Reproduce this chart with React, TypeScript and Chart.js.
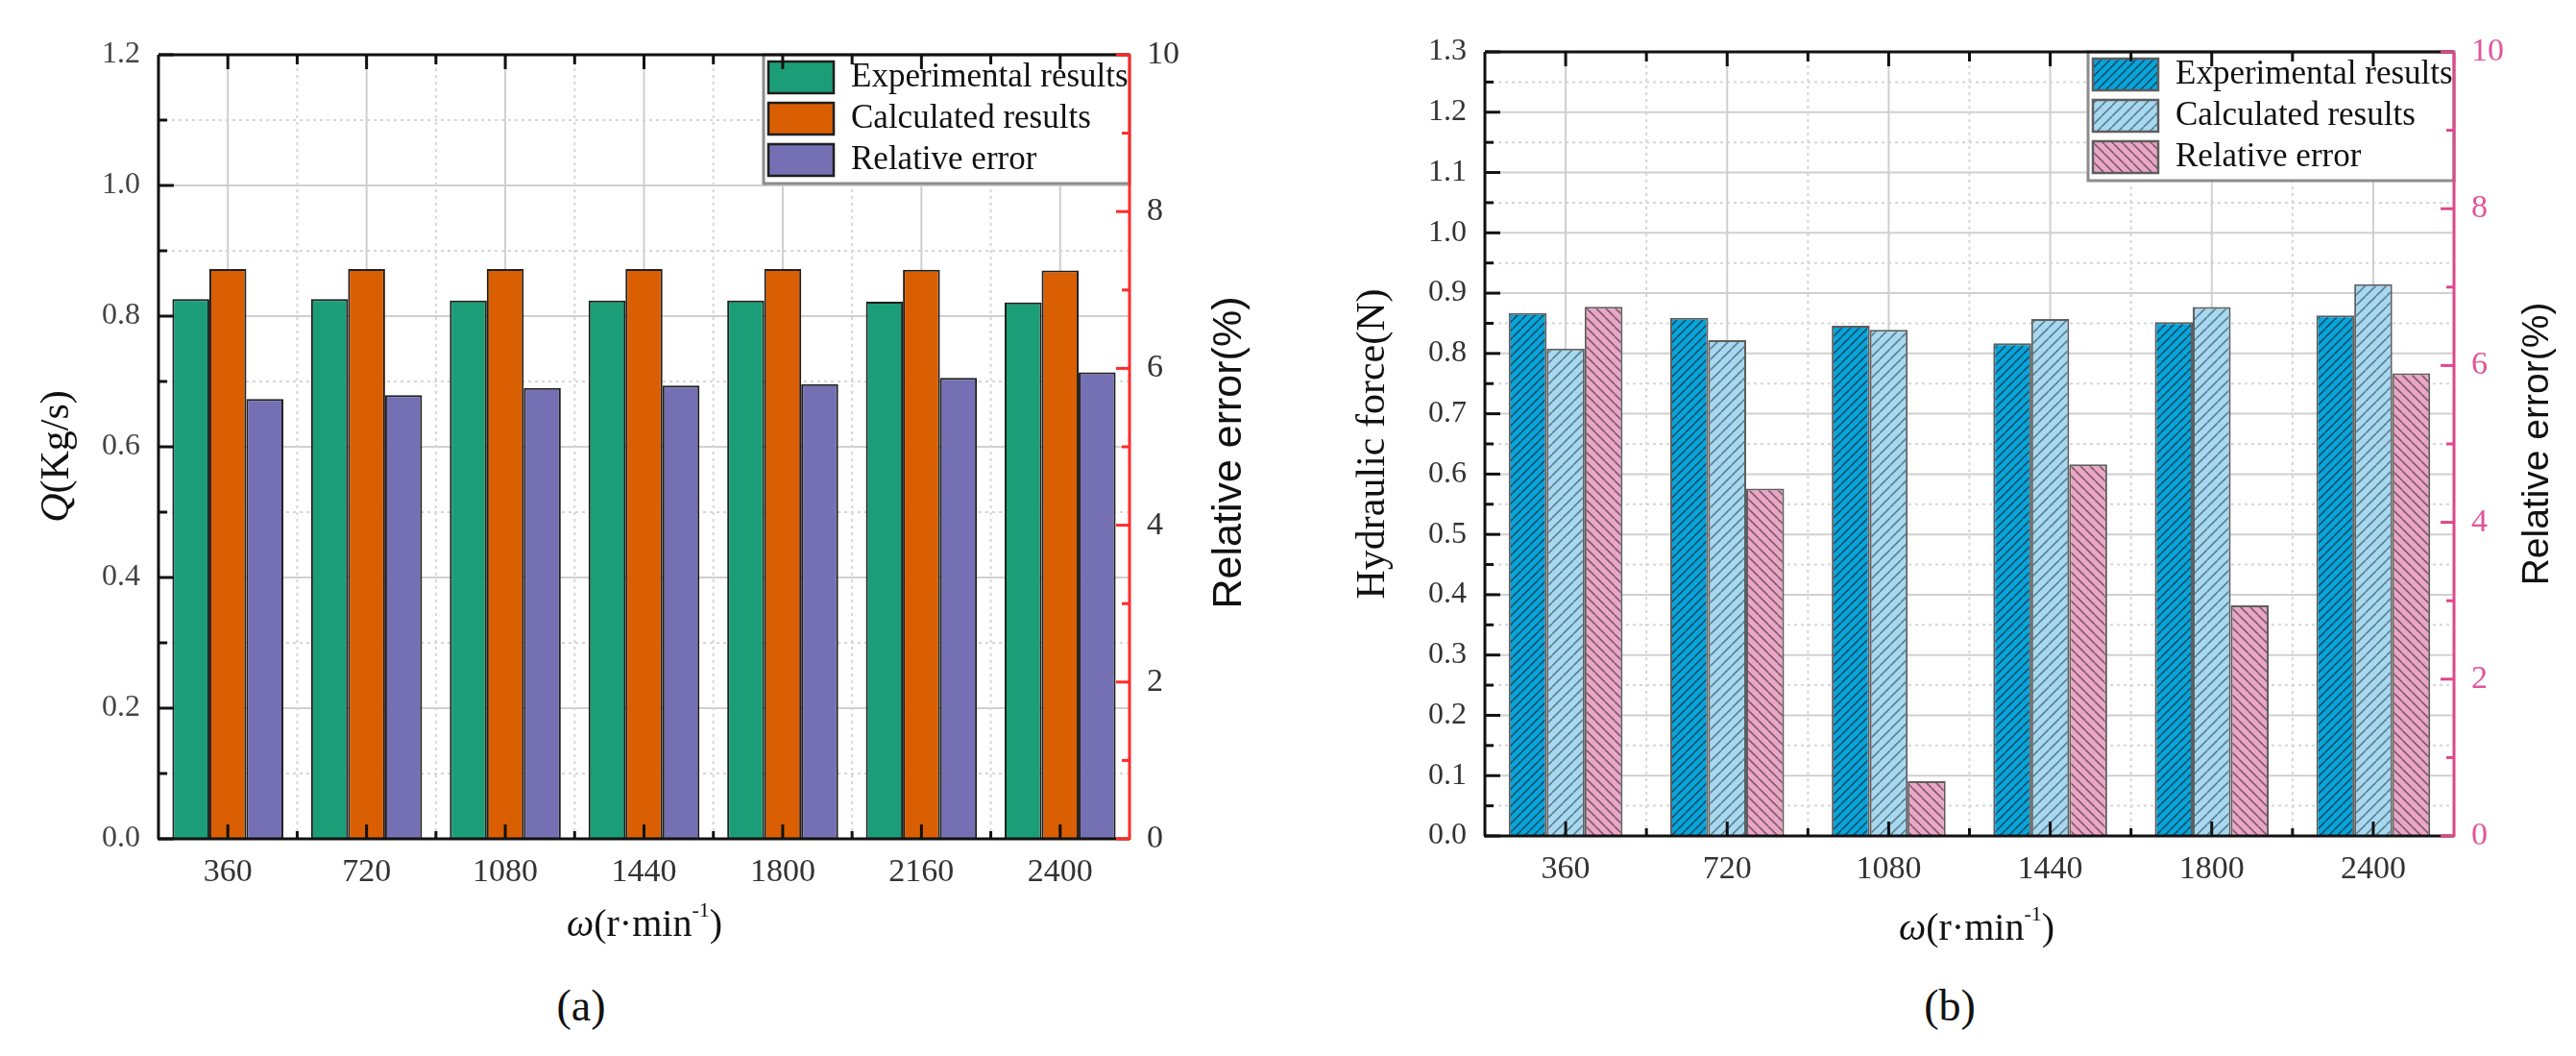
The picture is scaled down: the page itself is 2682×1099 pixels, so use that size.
import React, { useEffect, useRef } from "react";
import { Chart, registerables } from "chart.js";

Chart.register(...registerables);

// ---------------- data ----------------
const SERIES_LABELS = ["Experimental results", "Calculated results", "Relative error"];

const CATEGORIES_A = ["360", "720", "1080", "1440", "1800", "2160", "2400"];
const EXPERIMENTAL_A = [0.826, 0.826, 0.824, 0.824, 0.824, 0.822, 0.821];
const CALCULATED_A = [0.872, 0.872, 0.872, 0.872, 0.872, 0.871, 0.870];
const RELATIVE_ERROR_A = [5.61, 5.66, 5.75, 5.78, 5.80, 5.88, 5.95];

const CATEGORIES_B = ["360", "720", "1080", "1440", "1800", "2400"];
const EXPERIMENTAL_B = [0.867, 0.859, 0.846, 0.817, 0.852, 0.863];
const CALCULATED_B = [0.808, 0.822, 0.839, 0.857, 0.877, 0.915];
const RELATIVE_ERROR_B = [6.75, 4.43, 0.70, 4.74, 2.94, 5.90];

// ---------------- styling helpers ----------------
const SERIF = '"Liberation Serif", "Times New Roman", serif';
const SANS = '"Liberation Sans", Arial, sans-serif';

type Part = { text: string; font: string; dy?: number };

function drawParts(
  ctx: CanvasRenderingContext2D,
  parts: Part[],
  cx: number,
  cy: number,
  vertical: boolean,
  color: string
) {
  ctx.save();
  ctx.translate(cx, cy);
  if (vertical) ctx.rotate(-Math.PI / 2);
  const widths = parts.map((p) => {
    ctx.font = p.font;
    return ctx.measureText(p.text).width;
  });
  const total = widths.reduce((a, b) => a + b, 0);
  let x = -total / 2;
  ctx.textBaseline = "middle";
  ctx.textAlign = "left";
  ctx.fillStyle = color;
  parts.forEach((p, i) => {
    ctx.font = p.font;
    ctx.fillText(p.text, x, p.dy || 0);
    x += widths[i];
  });
  ctx.restore();
}

function makeHatch(bg: string, line: string, s: number, forward: boolean, lw: number): any {
  const c = document.createElement("canvas");
  c.width = s;
  c.height = s;
  const g = c.getContext("2d");
  if (!g) return bg;
  g.fillStyle = bg;
  g.fillRect(0, 0, s, s);
  g.strokeStyle = line;
  g.lineWidth = lw;
  g.beginPath();
  for (const x0 of [-s, 0, s]) {
    if (forward) {
      g.moveTo(x0, s);
      g.lineTo(x0 + s, 0);
    } else {
      g.moveTo(x0, 0);
      g.lineTo(x0 + s, s);
    }
  }
  g.stroke();
  const pat = g.createPattern(c, "repeat");
  return pat || bg;
}

type SeriesSpec = { label: string; data: number[]; bg: any; axis: "y" | "y1" };

type PanelCfg = {
  left: number;
  w: number;
  h: number;
  area: { left: number; right: number; top: number; bottom: number };
  categories: string[];
  series: SeriesSpec[];
  barBorder: string;
  catPct: number;
  yMax: number;
  yStep: number;
  yLabelEvery: number;
  y1Max: number;
  y1Step: number;
  rightColor: string;
  rightTickColor: string;
  yTickColor: string;
  leftTitle: { parts: Part[]; x: number; y: number };
  rightTitle: { parts: Part[]; x: number; y: number };
  xTitle: { parts: Part[]; x: number; y: number };
};

function decorPlugin(cfg: PanelCfg) {
  return {
    id: "decor",
    beforeDatasetsDraw(chart: any) {
      const { ctx, chartArea: a } = chart;
      const xs = chart.scales.x;
      const ys = chart.scales.y;
      ctx.save();
      ctx.lineWidth = 2;
      // horizontal grid
      ys.ticks.forEach((t: any, i: number) => {
        const py = ys.getPixelForValue(t.value);
        if (py <= a.top + 2 || py >= a.bottom - 2) return;
        const major = i % cfg.yLabelEvery === 0;
        ctx.beginPath();
        ctx.setLineDash(major ? [] : [3, 4]);
        ctx.strokeStyle = major ? "#d0d0d0" : "#d6d6d6";
        ctx.moveTo(a.left, py);
        ctx.lineTo(a.right, py);
        ctx.stroke();
      });
      // vertical grid
      const n = cfg.categories.length;
      for (let i = 0; i < n; i++) {
        const px = xs.getPixelForValue(i);
        ctx.beginPath();
        ctx.setLineDash([]);
        ctx.strokeStyle = "#cfcfcf";
        ctx.moveTo(px, a.top);
        ctx.lineTo(px, a.bottom);
        ctx.stroke();
        if (i < n - 1) {
          const bx = (px + xs.getPixelForValue(i + 1)) / 2;
          ctx.beginPath();
          ctx.setLineDash([3, 4]);
          ctx.strokeStyle = "#d6d6d6";
          ctx.moveTo(bx, a.top);
          ctx.lineTo(bx, a.bottom);
          ctx.stroke();
        }
      }
      ctx.restore();
    },
    afterDatasetsDraw(chart: any) {
      const { ctx, chartArea: a } = chart;
      const xs = chart.scales.x;
      const ys = chart.scales.y;
      const y1 = chart.scales.y1;
      ctx.save();
      ctx.setLineDash([]);

      // legend
      const lw = 381;
      const lh = 134;
      const lx = a.right - lw;
      const ly = a.top;
      ctx.fillStyle = "#ffffff";
      ctx.fillRect(lx, ly, lw, lh);
      ctx.strokeStyle = "#8c8c8c";
      ctx.lineWidth = 3;
      ctx.strokeRect(lx, ly, lw, lh);
      chart.data.datasets.forEach((ds: any, k: number) => {
        const sy = ly + 7 + k * 43;
        ctx.fillStyle = ds.backgroundColor;
        ctx.fillRect(lx + 5, sy, 68, 33);
        ctx.strokeStyle = cfg.barBorder;
        ctx.lineWidth = 2.5;
        ctx.strokeRect(lx + 5, sy, 68, 33);
        ctx.fillStyle = "#111";
        ctx.font = `35px ${SERIF}`;
        ctx.textBaseline = "middle";
        ctx.textAlign = "left";
        ctx.fillText(ds.label, lx + 91, sy + 17);
      });

      // frame
      ctx.lineWidth = 3;
      ctx.strokeStyle = "#111";
      ctx.beginPath();
      ctx.moveTo(a.left, a.top);
      ctx.lineTo(a.right, a.top);
      ctx.moveTo(a.left, a.top);
      ctx.lineTo(a.left, a.bottom);
      ctx.moveTo(a.left - 1, a.bottom);
      ctx.lineTo(a.right, a.bottom);
      ctx.stroke();
      ctx.strokeStyle = cfg.rightColor;
      ctx.beginPath();
      ctx.moveTo(a.right, a.top);
      ctx.lineTo(a.right, a.bottom + 1);
      ctx.stroke();

      // left ticks (inward)
      ctx.lineWidth = 3;
      ctx.strokeStyle = "#111";
      ys.ticks.forEach((t: any, i: number) => {
        const py = ys.getPixelForValue(t.value);
        const len = i % cfg.yLabelEvery === 0 ? 16 : 9;
        ctx.beginPath();
        ctx.moveTo(a.left, py);
        ctx.lineTo(a.left + len, py);
        ctx.stroke();
      });
      // right ticks (inward)
      ctx.strokeStyle = cfg.rightColor;
      y1.ticks.forEach((t: any, i: number) => {
        const py = y1.getPixelForValue(t.value);
        const len = i % 2 === 0 ? 14 : 8;
        ctx.beginPath();
        ctx.moveTo(a.right, py);
        ctx.lineTo(a.right - len, py);
        ctx.stroke();
      });
      // top & bottom ticks
      ctx.strokeStyle = "#111";
      const n = cfg.categories.length;
      for (let i = 0; i < n; i++) {
        const px = xs.getPixelForValue(i);
        ctx.beginPath();
        ctx.moveTo(px, a.top);
        ctx.lineTo(px, a.top + 15);
        ctx.moveTo(px, a.bottom);
        ctx.lineTo(px, a.bottom - 15);
        ctx.stroke();
        if (i < n - 1) {
          const bx = (px + xs.getPixelForValue(i + 1)) / 2;
          ctx.beginPath();
          ctx.moveTo(bx, a.top);
          ctx.lineTo(bx, a.top + 10);
          ctx.moveTo(bx, a.bottom);
          ctx.lineTo(bx, a.bottom - 8);
          ctx.stroke();
        }
      }

      // titles
      drawParts(ctx, cfg.leftTitle.parts, cfg.leftTitle.x, cfg.leftTitle.y, true, "#111");
      drawParts(ctx, cfg.rightTitle.parts, cfg.rightTitle.x, cfg.rightTitle.y, true, "#111");
      drawParts(ctx, cfg.xTitle.parts, cfg.xTitle.x, cfg.xTitle.y, false, "#111");
      ctx.restore();
    },
  };
}

function buildConfig(cfg: PanelCfg): any {
  const leftW = cfg.area.left;
  const rightW = cfg.w - cfg.area.right;
  const bottomH = cfg.h - cfg.area.bottom;
  return {
    type: "bar",
    data: {
      labels: cfg.categories,
      datasets: cfg.series.map((s) => ({
        label: s.label,
        data: s.data,
        backgroundColor: s.bg,
        borderColor: cfg.barBorder,
        borderWidth: 2,
        yAxisID: s.axis,
        categoryPercentage: cfg.catPct,
        barPercentage: 1,
      })),
    },
    options: {
      animation: false,
      responsive: false,
      devicePixelRatio: 1,
      layout: { padding: { top: cfg.area.top, left: 0, right: 0, bottom: 0 } },
      plugins: { legend: { display: false }, tooltip: { enabled: false } },
      scales: {
        x: {
          type: "category",
          offset: true,
          grid: { display: false, drawTicks: false },
          border: { display: false },
          ticks: {
            autoSkip: false,
            maxRotation: 0,
            padding: 15,
            color: "#333",
            font: { family: SERIF, size: 34 },
          },
          afterFit: (s: any) => {
            s.height = bottomH;
          },
        },
        y: {
          type: "linear",
          position: "left",
          min: 0,
          max: cfg.yMax,
          grid: { display: false, drawTicks: false },
          border: { display: false },
          ticks: {
            stepSize: cfg.yStep,
            maxTicksLimit: 1000,
            autoSkip: false,
            padding: 19,
            color: cfg.yTickColor,
            font: { family: SERIF, size: 32 },
            callback: (v: any, i: number) => (i % cfg.yLabelEvery === 0 ? Number(v).toFixed(1) : ""),
          },
          afterFit: (s: any) => {
            s.width = leftW;
          },
        },
        y1: {
          type: "linear",
          position: "right",
          min: 0,
          max: cfg.y1Max,
          grid: { display: false, drawTicks: false, drawOnChartArea: false },
          border: { display: false },
          ticks: {
            stepSize: cfg.y1Step,
            maxTicksLimit: 1000,
            autoSkip: false,
            padding: 18,
            color: cfg.rightTickColor,
            font: { family: SERIF, size: 34 },
            callback: (v: any, i: number) => (i % 2 === 0 ? String(Math.round(Number(v))) : ""),
          },
          afterFit: (s: any) => {
            s.width = rightW;
          },
        },
      },
    },
    plugins: [decorPlugin(cfg)],
  };
}

function BarPanel({ make }: { make: () => PanelCfg }) {
  const ref = useRef<HTMLCanvasElement>(null);
  const cfgRef = useRef<PanelCfg | null>(null);
  if (!cfgRef.current) cfgRef.current = make();
  const cfg = cfgRef.current;
  useEffect(() => {
    const canvas = ref.current;
    if (!canvas) return;
    const chart = new Chart(canvas, buildConfig(make()));
    return () => chart.destroy();
  }, []);
  return (
    <canvas
      ref={ref}
      width={cfg.w}
      height={cfg.h}
      style={{ position: "absolute", left: cfg.left, top: 0, width: cfg.w, height: cfg.h }}
    />
  );
}

const xTitleParts = (size: number): Part[] => [
  { text: "ω", font: `italic ${size}px ${SERIF}` },
  { text: "(r·min", font: `${size}px ${SERIF}` },
  { text: "-1", font: `${Math.round(size * 0.55)}px ${SERIF}`, dy: -size * 0.36 },
  { text: ")", font: `${size}px ${SERIF}` },
];

function makeA(): PanelCfg {
  return {
    left: 0,
    w: 1341,
    h: 1000,
    area: { left: 165, right: 1176, top: 57, bottom: 873 },
    categories: CATEGORIES_A,
    series: [
      { label: SERIES_LABELS[0], data: EXPERIMENTAL_A, bg: "#1b9e77", axis: "y" },
      { label: SERIES_LABELS[1], data: CALCULATED_A, bg: "#d95f02", axis: "y" },
      { label: SERIES_LABELS[2], data: RELATIVE_ERROR_A, bg: "#7570b3", axis: "y1" },
    ],
    barBorder: "#1e1e1e",
    catPct: 0.8,
    yMax: 1.2,
    yStep: 0.1,
    yLabelEvery: 2,
    y1Max: 10,
    y1Step: 1,
    rightColor: "#ff2a2a",
    rightTickColor: "#333",
    yTickColor: "#444",
    leftTitle: {
      parts: [
        { text: "Q", font: `italic 42px ${SERIF}` },
        { text: "(Kg/s)", font: `42px ${SERIF}` },
      ],
      x: 60,
      y: 475,
    },
    rightTitle: { parts: [{ text: "Relative error(%)", font: `43px ${SANS}` }], x: 1280, y: 471 },
    xTitle: { parts: xTitleParts(40), x: 671, y: 963 },
  };
}

function makeB(): PanelCfg {
  return {
    left: 1341,
    w: 1341,
    h: 1000,
    area: { left: 205, right: 1214, top: 54, bottom: 870 },
    categories: CATEGORIES_B,
    series: [
      { label: SERIES_LABELS[0], data: EXPERIMENTAL_B, bg: makeHatch("#06a5da", "#17506e", 9, true, 1.6), axis: "y" },
      { label: SERIES_LABELS[1], data: CALCULATED_B, bg: makeHatch("#a6d9f1", "#5f7f8f", 11, true, 1.6), axis: "y" },
      { label: SERIES_LABELS[2], data: RELATIVE_ERROR_B, bg: makeHatch("#eba6c6", "#7f5b6c", 10, false, 1.6), axis: "y1" },
    ],
    barBorder: "#5e5e5e",
    catPct: 0.705,
    yMax: 1.3,
    yStep: 0.05,
    yLabelEvery: 2,
    y1Max: 10,
    y1Step: 1,
    rightColor: "#e0468a",
    rightTickColor: "#e0559a",
    yTickColor: "#333",
    leftTitle: { parts: [{ text: "Hydraulic force(N)", font: `42px ${SERIF}` }], x: 89, y: 462 },
    rightTitle: { parts: [{ text: "Relative error(%)", font: `39px ${SANS}` }], x: 1301, y: 462 },
    xTitle: { parts: xTitleParts(40), x: 717, y: 967 },
  };
}

export default function App() {
  const capStyle: React.CSSProperties = {
    position: "absolute",
    top: 1021,
    width: 200,
    textAlign: "center",
    fontFamily: SERIF,
    fontSize: 46,
    lineHeight: "52px",
    color: "#111",
  };
  return (
    <div
      style={{
        position: "absolute",
        left: 0,
        top: 0,
        width: 2682,
        height: 1099,
        background: "#ffffff",
        overflow: "hidden",
      }}
    >
      <BarPanel make={makeA} />
      <BarPanel make={makeB} />
      <div style={{ ...capStyle, left: 605 - 100 }}>(a)</div>
      <div style={{ ...capStyle, left: 2030 - 100 }}>(b)</div>
    </div>
  );
}
